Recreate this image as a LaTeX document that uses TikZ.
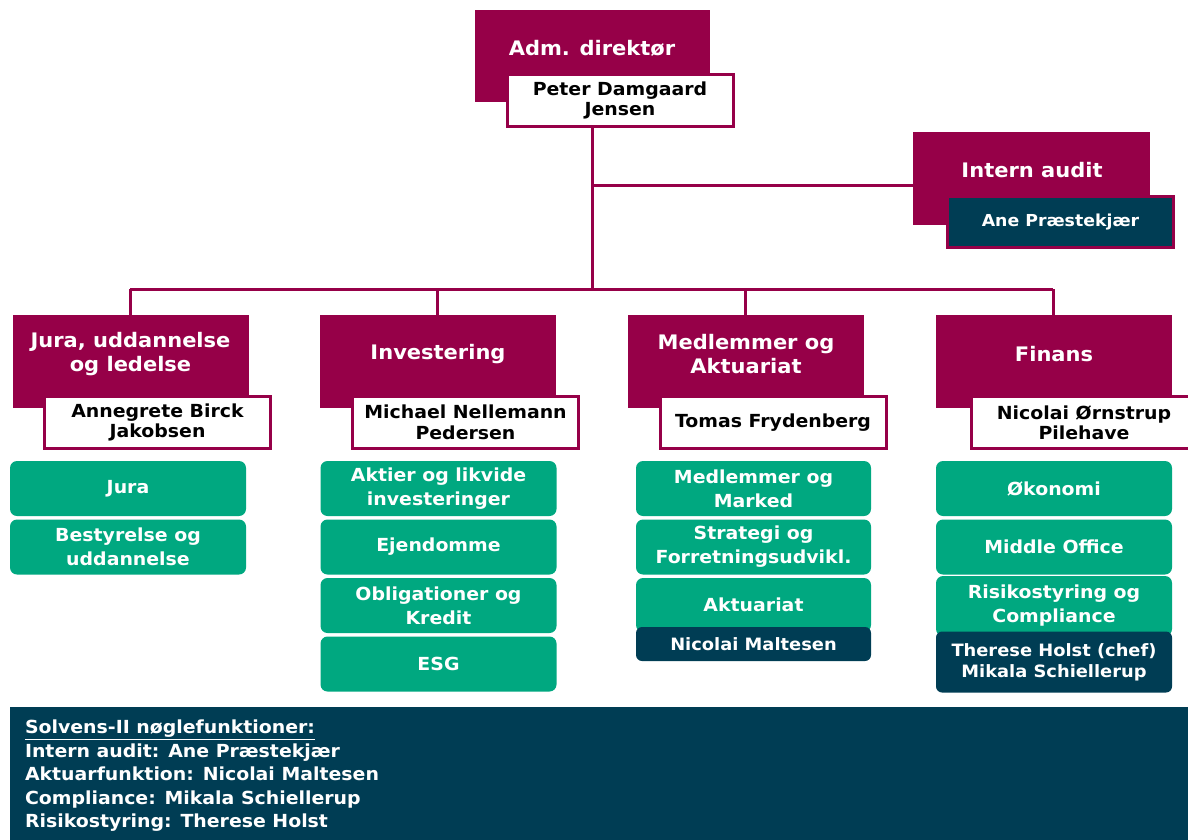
\documentclass[tikz,border=0pt]{standalone}
\usepackage{fontspec}
\setmainfont{DejaVu Sans}[FakeStretch=1.05]
\definecolor{maroon}{RGB}{150,0,72}
\definecolor{teal}{RGB}{0,168,128}
\definecolor{navy}{RGB}{0,61,84}
\begin{document}
\begin{tikzpicture}[x=1pt,y=-1pt,
  every node/.style={inner sep=0pt, outer sep=0pt},
  headbox/.style={fill=maroon, minimum width=236pt, minimum height=93pt},
  headtext/.style={text=white, font=\fontsize{20}{24}\selectfont\bfseries, align=center},
  namebox/.style={fill=white, draw=maroon, line width=3pt, minimum width=226pt, minimum height=52pt,
     font=\fontsize{18}{20.5}\selectfont\bfseries, align=center, text=black},
  unitbox/.style={fill=teal, rounded corners=7pt, minimum width=236pt, minimum height=55pt,
     text=white, font=\fontsize{18}{24}\selectfont\bfseries, align=center},
  navybox/.style={fill=navy, rounded corners=6pt, minimum width=236pt,
     text=white, font=\fontsize{17}{21}\selectfont\bfseries, align=center},
  conn/.style={draw=maroon, line width=3pt}
]
\useasboundingbox (0,0) rectangle (1188,840);

% CEO
\node[headbox, minimum width=235pt, minimum height=92pt] (ceo) at (592.5,56) {};
\node[headtext] (ceot) at (592,48) {Adm. direktør};
\node[namebox] (ceon) at (620,100.5) {Peter Damgaard\\Jensen};

% Intern audit
\node[headbox, minimum width=237pt] (aud) at (1031.5,178.5) {};
\node[headtext] (audt) at (1032,170) {Intern audit};
\node[namebox, fill=navy, text=white, minimum width=226pt, minimum height=51pt, font=\fontsize{16.5}{20}\selectfont\bfseries] (audn) at (1060.5,222) {Ane Præstekjær};

% Departments
\node[headbox] (d1) at (130.5,361.5) {};
\node[headtext] (d1t) at (130.5,354) {Jura, uddannelse\\og ledelse};
\node[namebox] (d1n) at (157.5,422.5) {Annegrete Birck\\Jakobsen};

\node[headbox] (d2) at (438,361.5) {};
\node[headtext] (d2t) at (438,354) {Investering};
\node[namebox] (d2n) at (465.5,422.5) {Michael Nellemann\\Pedersen};

\node[headbox] (d3) at (746,361.5) {};
\node[headtext] (d3t) at (746,354) {Medlemmer og\\Aktuariat};
\node[namebox] (d3n) at (773,422.5) {Tomas Frydenberg};

\node[headbox] (d4) at (1054,361.5) {};
\node[headtext] (d4t) at (1054,354) {Finans};
\node[namebox] (d4n) at (1084,422.5) {Nicolai Ørnstrup\\Pilehave};

% Connectors
\coordinate (bus) at (592,289);
\coordinate (busL) at (130,289);
\coordinate (busR) at (1053,289);
\coordinate (audj) at (592,185);
\draw[conn] (ceon.south -| bus) -- (bus);
\draw[conn] (audj) -- (audj -| aud.west);
\draw[conn] (busL) -- (busR);
\draw[conn] (busL) -- (d1.north -| busL);
\draw[conn] (437,289) -- (d2.north -| 437,0);
\draw[conn] (745,289) -- (d3.north -| 745,0);
\draw[conn] (busR) -- (d4.north -| busR);

% Units: Jura
\node[unitbox] (u11) at (128,488.5) {Jura};
\node[unitbox] (u12) at (128,547) {Bestyrelse og\\uddannelse};
% Investering
\node[unitbox] (u21) at (438.5,488.5) {Aktier og likvide\\investeringer};
\node[unitbox] (u22) at (438.5,547) {Ejendomme};
\node[unitbox] (u23) at (438.5,605.5) {Obligationer og\\Kredit};
\node[unitbox] (u24) at (438.5,664) {ESG};
% Medlemmer
\node[unitbox, minimum width=235pt] (u31) at (753.5,488.5) {Medlemmer og\\Marked};
\node[unitbox, minimum width=235pt] (u32) at (753.5,547) {Strategi og\\Forretningsudvikl.};
\node[unitbox, minimum width=235pt, minimum height=54pt] (u33) at (753.5,605) {Aktuariat};
\node[navybox, minimum width=235pt, minimum height=34pt] (u34) at (753.5,644) {Nicolai Maltesen};
% Finans
\node[unitbox] (u41) at (1054,488.5) {Økonomi};
\node[unitbox] (u42) at (1054,547) {Middle Office};
\node[unitbox, minimum height=60pt] (u43) at (1054,606) {Risikostyring og\\Compliance};
\node[navybox, minimum height=61pt] (u44) at (1054,662) {Therese Holst (chef)\\Mikala Schiellerup};

% Bottom panel
\node[fill=navy, minimum width=1178pt, minimum height=134pt, anchor=north west] (panel) at (10,707) {};
\node[anchor=north west, text=white, align=left, font=\fontsize{18}{23.5}\selectfont\bfseries] (ptext) at (25,720)
 {\underline{Solvens-II nøglefunktioner:}\\
  Intern audit: Ane Præstekjær\\
  Aktuarfunktion: Nicolai Maltesen\\
  Compliance: Mikala Schiellerup\\
  Risikostyring: Therese Holst};
\end{tikzpicture}
\end{document}
